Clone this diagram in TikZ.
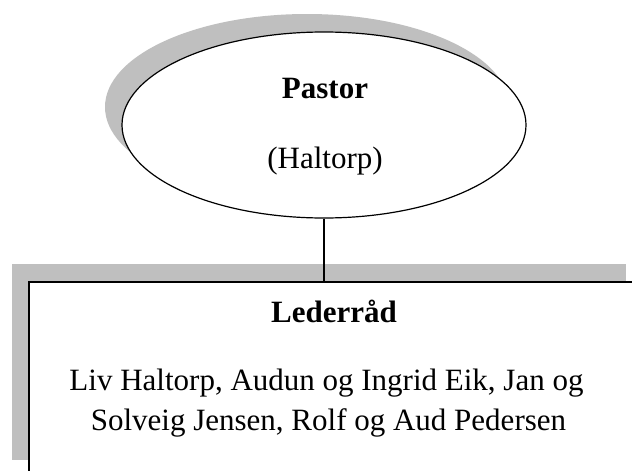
\documentclass[tikz,border=0pt]{standalone}
\usepackage{fontspec}
\setmainfont{Liberation Serif}
\usetikzlibrary{shapes.geometric,shadows}
\definecolor{shadowgray}{RGB}{191,191,191}
\tikzset{
  gshadow/.style={general shadow={fill=shadowgray, draw=none, shadow xshift=-17pt, shadow yshift=18pt}},
  oval/.style={ellipse, draw=black, line width=1.2pt, fill=white, minimum width=404pt, minimum height=186pt, inner sep=0pt, gshadow},
  board/.style={rectangle, draw=black, line width=2.2pt, fill=white, minimum width=614pt, minimum height=196pt, inner sep=0pt, gshadow},
  txt/.style={anchor=base, inner sep=0pt, font=\fontsize{31}{37}\selectfont},
  btxt/.style={txt, font=\fontsize{31}{37}\selectfont\bfseries},
  link/.style={draw=black, line width=1.5pt}
}
\begin{document}
\begin{tikzpicture}[x=1pt,y=-1pt]
\clip (0,0) rectangle (632,471);
\fill[white] (0,0) rectangle (632,471);
\node[oval] (pastor) at (324,125) {};
\node[board] (leder) at (336,380) {};
\node[btxt] (pastorT) at (325,98) {Pastor};
\node[txt] (haltorp) at (325,168.5) {(Haltorp)};
\node[btxt] (lederT) at (334,322) {Lederråd};
\node[txt] (line1) at (326.5,390) {Liv Haltorp, Audun og Ingrid Eik, Jan og};
\node[txt] (line2) at (328.5,430) {Solveig Jensen, Rolf og Aud Pedersen};
\draw[link] (pastor.south) -- (pastor.south |- leder.north);
\end{tikzpicture}
\end{document}
